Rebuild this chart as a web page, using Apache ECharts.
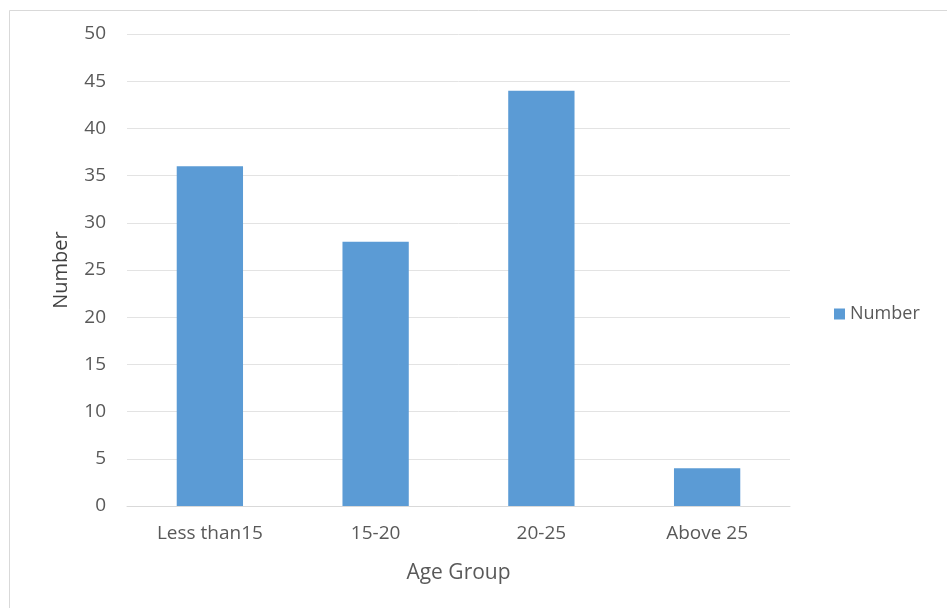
<!DOCTYPE html>
<html>
<head>
<meta charset="utf-8">
<script src="https://cdn.jsdelivr.net/npm/echarts@6/dist/echarts.min.js"></script>
<style>
  html, body { margin: 0; padding: 0; background: #fff; }
  #chart { width: 947px; height: 608px; }
</style>
</head>
<body>
<div id="chart"></div>
<script>
// Age-group counts
const categories = ['Less than15', '15-20', '20-25', 'Above 25'];
const numberValues = [36, 28, 44, 4];
const seriesName = 'Number';
const xAxisTitle = 'Age Group';
const yAxisTitle = 'Number';

const FONT = '"Open Sans", "Liberation Sans", sans-serif';
const chart = echarts.init(document.getElementById('chart'), null, { renderer: 'canvas' });

chart.setOption({
  backgroundColor: '#ffffff',
  animation: false,
  graphic: [{
    type: 'rect',
    shape: { x: 9.5, y: 10.5, width: 960, height: 620 },
    style: { fill: 'none', stroke: '#d9d9d9', lineWidth: 1 },
    silent: true
  }],
  grid: { left: 127, right: 157, top: 34, bottom: 102, containLabel: false },
  legend: {
    data: [seriesName],
    orient: 'vertical',
    left: 829,
    top: 300,
    itemWidth: 11,
    itemHeight: 11,
    itemGap: 4,
    icon: 'rect',
    textStyle: { fontFamily: FONT, fontSize: 18, color: '#595959' }
  },
  xAxis: {
    type: 'category',
    data: categories,
    name: xAxisTitle,
    nameLocation: 'middle',
    nameGap: 57,
    nameTextStyle: { fontFamily: FONT, fontSize: 21, color: '#595959' },
    axisLine: { lineStyle: { color: '#d9d9d9', width: 1 } },
    axisTick: { show: false },
    axisLabel: { fontFamily: FONT, fontSize: 19, color: '#595959', margin: 18 }
  },
  yAxis: {
    type: 'value',
    min: 0,
    max: 50,
    interval: 5,
    name: yAxisTitle,
    nameLocation: 'middle',
    nameGap: 56,
    nameRotate: 90,
    nameTextStyle: { fontFamily: FONT, fontSize: 20, color: '#404040' },
    axisLine: { show: false },
    axisTick: { show: false },
    axisLabel: { fontFamily: FONT, fontSize: 19, color: '#595959', margin: 21 },
    splitLine: { lineStyle: { color: '#e3e3e3', width: 1 } }
  },
  series: [{
    name: seriesName,
    type: 'bar',
    data: numberValues,
    barWidth: '40%',
    itemStyle: { color: '#5b9bd5' }
  }]
});
</script>
</body>
</html>
